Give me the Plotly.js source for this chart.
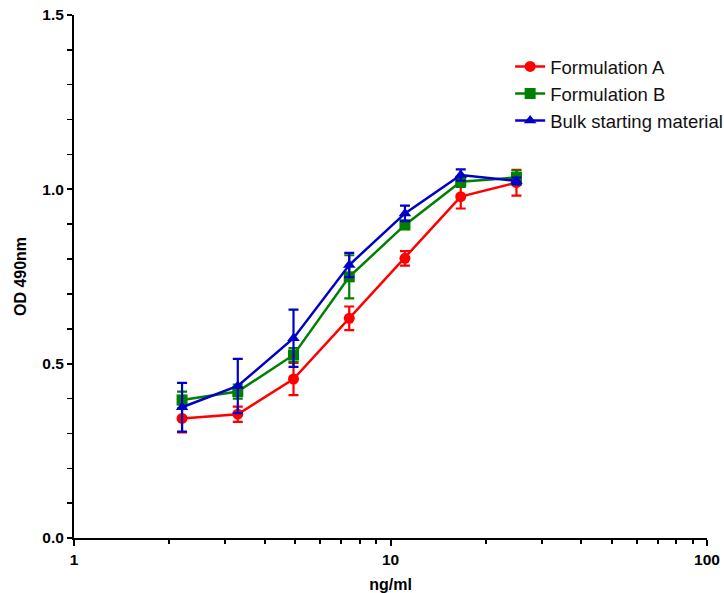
<!DOCTYPE html>
<html><head><meta charset="utf-8">
<script src="https://cdn.plot.ly/plotly-3.0.1.min.js"></script>
<style>html,body{margin:0;padding:0;background:#fff}#chart{width:724px;height:593px}</style>
</head><body><div id="chart"></div>
<script>
const conc = [2.195, 3.292, 4.938, 7.407, 11.11, 16.67, 25];
const seriesNames = ["Formulation A", "Formulation B", "Bulk starting material"];
const formA = [0.343, 0.355, 0.456, 0.630, 0.802, 0.979, 1.019];
const formAErr = [0.040, 0.022, 0.046, 0.034, 0.021, 0.034, 0.037];
const formB = [0.396, 0.420, 0.525, 0.749, 0.898, 1.022, 1.034];
const formBErr = [0.024, 0.020, 0.020, 0.062, 0.012, 0.015, 0.020];
const bulk = [0.375, 0.436, 0.573, 0.783, 0.931, 1.041, 1.024];
const bulkErr = [0.070, 0.078, 0.082, 0.035, 0.022, 0.016, 0.010];
const yTickVals = [0, 0.5, 1.0, 1.5];
const xTickVals = [1, 10, 100];
const xTickText = ["1", "10", "100"];
const xMinorVals = [2, 3, 4, 5, 6, 7, 8, 9, 20, 30, 40, 50, 60, 70, 80, 90];

const font = "Arial, 'Liberation Sans', sans-serif";
function tr(y, err, name, color, symbol, grp) {
  return {
    x: conc, y: y, name: name, type: "scatter", mode: "lines+markers",
    legendgroup: grp,
    line: {color: color, width: 2.5},
    marker: {color: color, symbol: symbol, size: 11},
    error_y: {type: "data", array: err, visible: true, color: color, thickness: 2.2, width: 5}
  };
}
const data = [
  tr(formA, formAErr, seriesNames[0], "#ff0000", "circle", "a"),
  tr(formB, formBErr, seriesNames[1], "#008000", "square", "b"),
  tr(bulk, bulkErr, seriesNames[2], "#0000c8", "triangle-up", "c")
];
const layout = {
  width: 724, height: 593,
  margin: {l: 74, r: 17, t: 15, b: 55, autoexpand: false},
  paper_bgcolor: "#fff", plot_bgcolor: "#fff",
  font: {family: font, color: "#000"},
  showlegend: true,
  legend: {x: 0.689, y: 0.937, xanchor: "left", yanchor: "top",
    font: {family: font, size: 18.5, color: "#111"}, tracegroupgap: 0,
    bgcolor: "rgba(0,0,0,0)"},
  xaxis: {
    type: "log", range: [0, 2],
    showgrid: false, zeroline: false,
    showline: true, linecolor: "#000", linewidth: 2,
    ticks: "outside", ticklen: 6, tickwidth: 2, tickcolor: "#000",
    tickmode: "array", tickvals: xTickVals, ticktext: xTickText,
    tickfont: {family: font, size: 15.5, color: "#000", weight: "bold"},
    minor: {ticks: "outside", ticklen: 4, tickwidth: 2, tickcolor: "#000",
      tickmode: "array", tickvals: xMinorVals, showgrid: false},
    title: {text: "ng/ml", font: {family: font, size: 16, color: "#000", weight: "bold"}, standoff: 16}
  },
  yaxis: {
    range: [0, 1.5],
    showgrid: false, zeroline: false,
    showline: true, linecolor: "#000", linewidth: 2,
    ticks: "outside", ticklen: 5, tickwidth: 2, tickcolor: "#000",
    tickmode: "array", tickvals: yTickVals, tickformat: ".1f",
    tickfont: {family: font, size: 15.5, color: "#000", weight: "bold"},
    minor: {ticks: "outside", ticklen: 5, tickwidth: 1.5, tickcolor: "#000", dtick: 0.1, showgrid: false},
    title: {text: "OD 490nm", font: {family: font, size: 16, color: "#000", weight: "bold"}, standoff: 12}
  }
};
Plotly.newPlot("chart", data, layout, {displayModeBar: false, staticPlot: true});
</script></body></html>
